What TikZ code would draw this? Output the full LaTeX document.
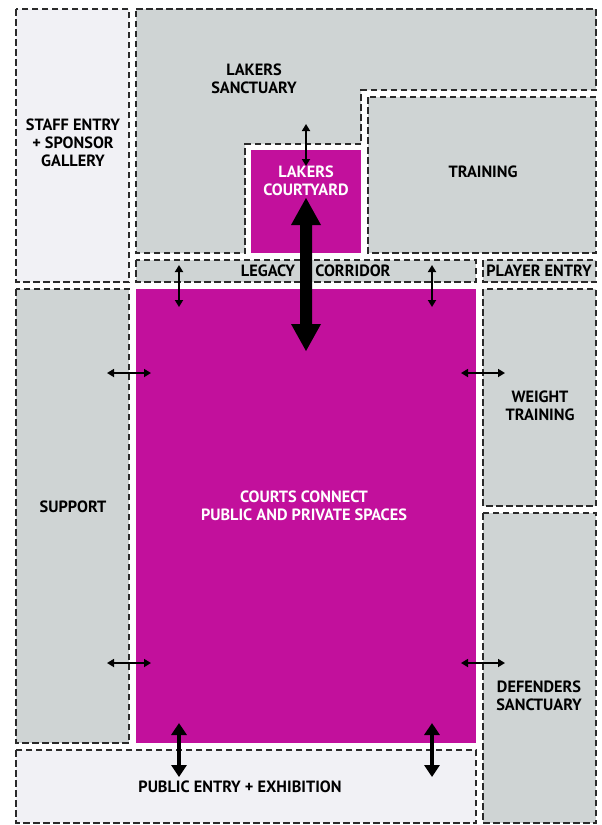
\documentclass[tikz,border=0pt]{standalone}
\usepackage{fontspec}
\setmainfont{PT Sans}
\usetikzlibrary{arrows.meta}
\definecolor{magent}{HTML}{C2109C}
\definecolor{roomgrey}{HTML}{CFD4D4}
\definecolor{roomlight}{HTML}{F1F1F5}
\definecolor{dashcol}{HTML}{2A2A2A}
\tikzset{
  room/.style={draw=dashcol, line width=1.5pt, dash pattern=on 6.5pt off 3.5pt},
  lbl/.style={font=\fontsize{16.3}{18}\selectfont\bfseries, align=center, text=black, inner sep=0pt},
  wlbl/.style={lbl, text=white},
  smallarr/.style={line width=1.7pt, {Triangle[length=7pt,width=8pt]}-{Triangle[length=7pt,width=8pt]}},
  medarr/.style={line width=4pt, {Triangle[length=12pt,width=15pt]}-{Triangle[length=12pt,width=15pt]}},
}
\begin{document}
\begin{tikzpicture}[x=1pt,y=-1pt]
\useasboundingbox (0,0) rectangle (602,825);
\fill[white] (0,0) rectangle (602,825);
% Staff entry
\path[room, fill=roomlight] (16,9) rectangle (129,282);
% Lakers sanctuary (L-shape)
\path[room, fill=roomgrey] (136,9) -- (596,9) -- (596,90) -- (361,90) -- (361,144) -- (245,144) -- (245,253) -- (136,253) -- cycle;
% Courtyard
\fill[magent] (251,150) rectangle (361,253);
% Training
\path[room, fill=roomgrey] (368,97) rectangle (596,253);
% Legacy corridor
\path[room, fill=roomgrey] (136,260) rectangle (476,282);
% Player entry
\path[room, fill=roomgrey] (483,260) rectangle (596,282);
% Support
\path[room, fill=roomgrey] (16,289) rectangle (129,743);
% Courts
\fill[magent] (136,289) rectangle (476,743);
% Weight training
\path[room, fill=roomgrey] (483,289) rectangle (596,506);
% Defenders sanctuary
\path[room, fill=roomgrey] (483,513) rectangle (596,823);
% Public entry
\path[room, fill=roomlight] (16,750) rectangle (476,823);

% labels
\node[lbl] (ls) at (254,79) {LAKERS\\SANCTUARY};
\node[lbl] (se) at (73,143) {STAFF ENTRY\\+ SPONSOR\\GALLERY};
\node[wlbl] (lc) at (306,181) {LAKERS\\COURTYARD};
\node[lbl] (tr) at (483,172) {TRAINING};
\node[lbl] (leg) at (268,271) {LEGACY};
\node[lbl] (cor) at (353,271) {CORRIDOR};
\node[lbl] (pe) at (539,271) {PLAYER ENTRY};
\node[lbl] (wt) at (540,406) {WEIGHT\\TRAINING};
\node[lbl] (sup) at (73,507) {SUPPORT};
\node[wlbl] (cc) at (304,506) {COURTS CONNECT\\PUBLIC AND PRIVATE SPACES};
\node[lbl] (ds) at (539,696) {DEFENDERS\\SANCTUARY};
\node[lbl] (pub) at (240,787) {PUBLIC ENTRY + EXHIBITION};

% connectors
\coordinate (a1) at (306,124); \coordinate (a2) at (306,166);
\draw[smallarr] (a1) -- (a2);
\coordinate (b1) at (179,265); \coordinate (b2) at (179,307);
\draw[smallarr] (b1) -- (b2);
\coordinate (c1) at (432,265); \coordinate (c2) at (432,307);
\draw[smallarr] (c1) -- (c2);
\coordinate (d1) at (107,373); \coordinate (d2) at (151,373);
\draw[smallarr] (d1) -- (d2);
\coordinate (e1) at (461,373); \coordinate (e2) at (505,373);
\draw[smallarr] (e1) -- (e2);
\coordinate (f1) at (107,663); \coordinate (f2) at (151,663);
\draw[smallarr] (f1) -- (f2);
\coordinate (g1) at (461,663); \coordinate (g2) at (505,663);
\draw[smallarr] (g1) -- (g2);
\coordinate (h1) at (179,723); \coordinate (h2) at (179,777);
\draw[medarr] (h1) -- (h2);
\coordinate (i1) at (432,723); \coordinate (i2) at (432,777);
\draw[medarr] (i1) -- (i2);
% big arrow
\fill[black] (306,198) -- (321,225) -- (312,225) -- (312,324) -- (321,324) -- (306,351) -- (291,324) -- (300,324) -- (300,225) -- (291,225) -- cycle;
\end{tikzpicture}
\end{document}
